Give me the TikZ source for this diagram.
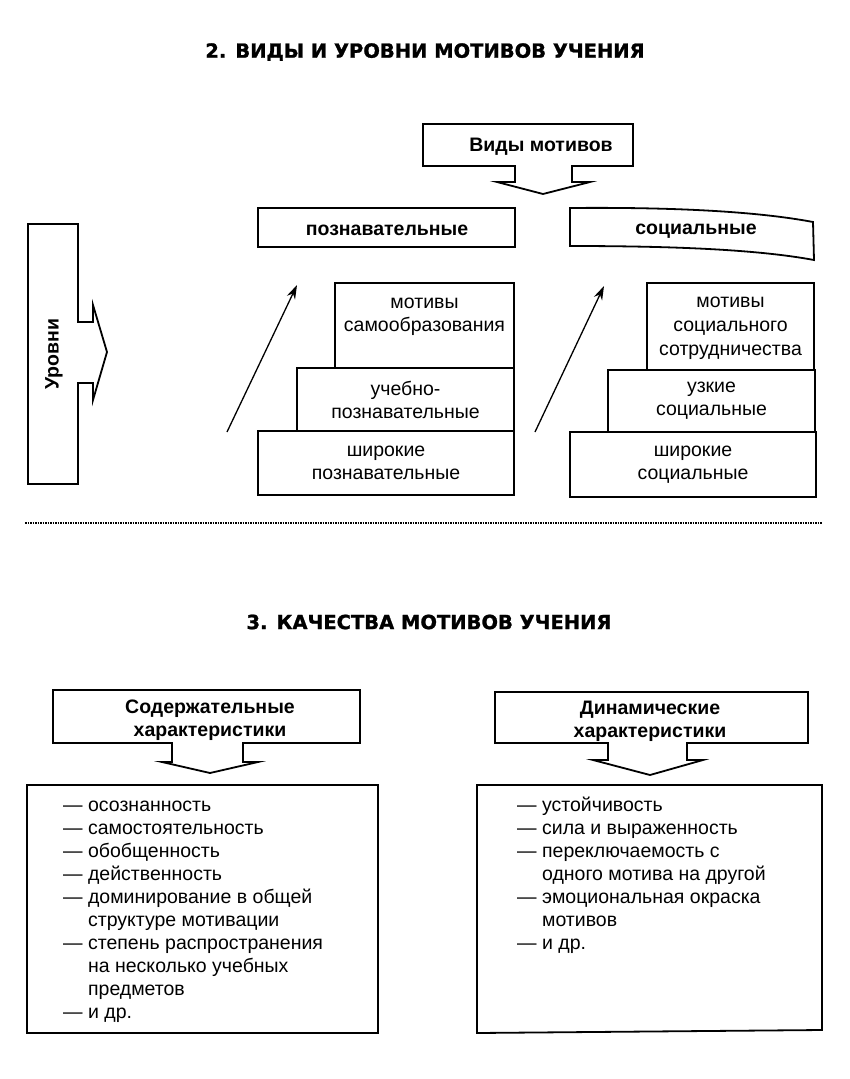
\documentclass[tikz,border=0pt]{standalone}
\usepackage{fontspec}
\setmainfont{Liberation Sans}
\newfontfamily\titlefont{DejaVu Sans}[BoldFeatures={FakeBold=1.2}]
\usetikzlibrary{arrows.meta}

\begin{document}
\begin{tikzpicture}[x=1pt, y=-1pt,
	frame/.style = {line width=1.8pt, line join=miter},
	stepbox/.style = {draw, line width=1.8pt, inner sep=0pt, align=center, font=\fontsize{19.5}{23}\selectfont},
	txt/.style = {inner sep=0pt, align=center, font=\fontsize{19.5}{23}\selectfont},
	bold/.style = {txt, font=\fontsize{19.5}{23}\selectfont\bfseries},
	heading/.style = {inner sep=0pt, font=\titlefont\bfseries\fontsize{19.5}{24}\selectfont},
	listtext/.style = {inner sep=0pt, align=left, anchor=north west, font=\fontsize{19.5}{23}\selectfont},
	uparrow/.style = {line width=1.3pt, -{Stealth[length=14pt, width=9pt]}}]
	\fill[white] (0,0) rectangle (849,1079);
	\useasboundingbox (0,0) rectangle (849,1079);

	% titles
	\node[heading] (title2) at (425,52) {2. ВИДЫ И УРОВНИ МОТИВОВ УЧЕНИЯ};
	\node[heading] (title3) at (429,622) {3. КАЧЕСТВА МОТИВОВ УЧЕНИЯ};

	% kinds of motives
	\node[bold] (vidy) at (541,147) {Виды мотивов};
	\draw[frame] (572,166) -- (633,166) -- (633,124) -- (423,124) -- (423,166) -- (515,166)
		-- (515,182) -- (497,182) -- (543,194) -- (590,182) -- (572,182) -- cycle;
	\node[stepbox, minimum width=257pt, minimum height=39pt] (pozn) at (386.5,227.5) {};
	\node[bold] (pozntext) at (387,230) {познавательные};
	\node[bold] (soc) at (696,231) {социальные};
	\draw[frame] (570,208) .. controls (680,207) and (760,212) .. (813,222) -- (814,260)
		.. controls (760,250) and (680,246) .. (570,246) -- cycle;

	% levels
	\node[bold, rotate=90] (urovni) at (54,354) {Уровни};
	\draw[frame] (78,322) -- (78,224) -- (28,224) -- (28,484) -- (78,484) -- (78,383)
		-- (93,383) -- (93,400) -- (107,352) -- (93,305) -- (93,322) -- cycle;

	% cognitive steps
	\node[stepbox, minimum width=256pt, minimum height=64pt] (pshir) at (386,463) {широкие\\познавательные};
	\node[stepbox, minimum width=217pt, minimum height=63pt] (puch) at (405.5,399.5) {учебно-\\познавательные};
	\node[stepbox, minimum width=179pt, minimum height=85pt] (psam) at (424.5,325.5) {};
	\node[txt] (psamtext) at (424.5,317) {мотивы\\самообразования};
	\coordinate (pa1) at (227,432);
	\coordinate (pa2) at (297,285);
	\draw[uparrow] (pa1) -- (pa2);

	% social steps
	\node[stepbox, minimum width=246pt, minimum height=65pt] (sshir) at (693,464.5) {широкие\\социальные};
	\node[stepbox, minimum width=207pt, minimum height=62pt] (suzk) at (711.5,401) {узкие\\социальные};
	\node[stepbox, minimum width=167pt, minimum height=87pt] (ssotr) at (730.5,326.5) {};
	\node[txt, font=\fontsize{19.5}{24}\selectfont] (ssotrtext) at (730.5,328) {мотивы\\социального\\сотрудничества};
	\coordinate (sa1) at (535,432);
	\coordinate (sa2) at (604,286);
	\draw[uparrow] (sa1) -- (sa2);

	% separator
	\coordinate (sep1) at (25,523);
	\coordinate (sep2) at (822,523);
	\draw[line width=1.2pt, dash pattern=on 1.5pt off 1pt] (sep1) -- (sep2);

	% qualities
	\node[bold] (soder) at (210,720) {Содержательные\\характеристики};
	\draw[frame] (243,743) -- (360,743) -- (360,690) -- (53,690) -- (53,743) -- (172,743)
		-- (172,762) -- (162,762) -- (210,773) -- (258,762) -- (243,762) -- cycle;
	\node[bold] (dinam) at (650,721) {Динамические\\характеристики};
	\draw[frame] (687,743) -- (808,743) -- (808,692) -- (495,692) -- (495,743) -- (608,743)
		-- (608,760) -- (593,760) -- (650,775) -- (703,760) -- (687,760) -- cycle;

	\draw[frame] (27,785) rectangle (378,1033);
	\node[listtext] (soderlist) at (63,795) {\strut— осознанность\\— самостоятельность\\— обобщенность\\— действенность\\— доминирование в общей\\\phantom{— }структуре мотивации\\— степень распространения\\\phantom{— }на несколько учебных\\\phantom{— }предметов\\— и др.};
	\draw[frame] (477,785) -- (822,785) -- (822,1030) -- (477,1033) -- cycle;
	\node[listtext] (dinamlist) at (517,795) {\strut— устойчивость\\— сила и выраженность\\— переключаемость с\\\phantom{— }одного мотива на другой\\— эмоциональная окраска\\\phantom{— }мотивов\\— и др.};
\end{tikzpicture}
\end{document}
